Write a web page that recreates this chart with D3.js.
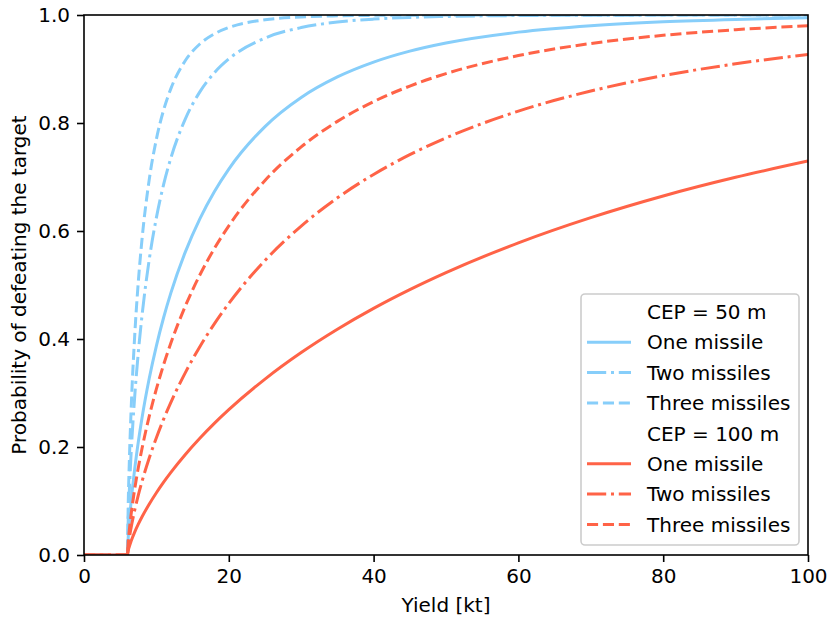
<!DOCTYPE html>
<html>
<head>
<meta charset="utf-8">
<script src="https://cdn.jsdelivr.net/npm/d3@7"></script>
<style>
  html, body { margin: 0; padding: 0; background: #fff; }
  text { font-family: "DejaVu Sans", sans-serif; fill: #000; }
</style>
</head>
<body>
<svg id="chart" width="827" height="618"></svg>
<script>
// ---- data ----
const yields = [0, 6, 6.1, 6.25, 6.5, 7, 7.5, 8, 9, 10, 11, 12, 14, 16, 18, 20, 25, 30, 35, 40, 45, 50, 60, 70, 80, 90, 100];
const cep50One   = [0, 0, 0.0303, 0.0594, 0.0979, 0.1591, 0.2093, 0.2528, 0.3263, 0.3874, 0.4398, 0.4854, 0.5614, 0.6226, 0.6728, 0.7147, 0.7934, 0.8473, 0.8853, 0.9128, 0.9331, 0.9482, 0.9683, 0.9802, 0.9874, 0.9918, 0.9947];
const cep50Two   = [0, 0, 0.0597, 0.1153, 0.1862, 0.2929, 0.3749, 0.4417, 0.5462, 0.6248, 0.6862, 0.7352, 0.8077, 0.8576, 0.8930, 0.9186, 0.9573, 0.9767, 0.9869, 0.9924, 0.9955, 0.9973, 0.9990, 0.9996, 0.9998, 0.9999, 1.0];
const cep50Three = [0, 0, 0.0883, 0.1679, 0.2659, 0.4054, 0.5057, 0.5829, 0.6942, 0.7702, 0.8242, 0.8637, 0.9157, 0.9463, 0.9650, 0.9768, 0.9912, 0.9964, 0.9985, 0.9993, 0.9997, 0.9999, 1.0, 1.0, 1.0, 1.0, 1.0];
const cep100One   = [0, 0, 0.0077, 0.0152, 0.0254, 0.0424, 0.0570, 0.0703, 0.0940, 0.1153, 0.1349, 0.1530, 0.1862, 0.2162, 0.2437, 0.2691, 0.3258, 0.3749, 0.4181, 0.4567, 0.4914, 0.5229, 0.5781, 0.6248, 0.6649, 0.6994, 0.7296];
const cep100Two   = [0, 0, 0.0153, 0.0302, 0.0502, 0.0830, 0.1108, 0.1356, 0.1792, 0.2173, 0.2516, 0.2826, 0.3378, 0.3857, 0.4280, 0.4658, 0.5455, 0.6092, 0.6614, 0.7047, 0.7413, 0.7724, 0.8220, 0.8592, 0.8877, 0.9096, 0.9269];
const cep100Three = [0, 0, 0.0228, 0.0449, 0.0744, 0.1219, 0.1615, 0.1963, 0.2564, 0.3076, 0.3525, 0.3924, 0.4611, 0.5185, 0.5674, 0.6096, 0.6936, 0.7557, 0.8030, 0.8396, 0.8684, 0.8914, 0.9249, 0.9472, 0.9624, 0.9728, 0.9802];

const xTicks = [0, 20, 40, 60, 80, 100];
const yTicks = [0, 0.2, 0.4, 0.6, 0.8, 1.0];
const legendLabels = ["CEP = 50 m", "One missile", "Two missiles", "Three missiles",
                      "CEP = 100 m", "One missile", "Two missiles", "Three missiles"];
const xLabel = "Yield [kt]";
const yLabel = "Probability of defeating the target";

// ---- styles ----
const BLUE = "#87cefa", RED = "#ff6347";
const DASH = { solid: null, dashdot: "19.2,4.8,3,4.8", dashed: "11.1,4.8" };
const series = [
  { values: cep50One,    color: BLUE, dash: DASH.solid },
  { values: cep50Two,    color: BLUE, dash: DASH.dashdot },
  { values: cep50Three,  color: BLUE, dash: DASH.dashed },
  { values: cep100One,   color: RED,  dash: DASH.solid },
  { values: cep100Two,   color: RED,  dash: DASH.dashdot },
  { values: cep100Three, color: RED,  dash: DASH.dashed }
];

const L = 84, R = 808, T = 15, B = 555;
const FS = 20;
const svg = d3.select("#chart");

const x = d3.scaleLinear().domain([0, 100]).range([L, R]);
const y = d3.scaleLinear().domain([0, 1]).range([B, T]);

svg.append("defs").append("clipPath").attr("id", "clip")
  .append("rect").attr("x", L).attr("y", T).attr("width", R - L).attr("height", B - T);

const line = d3.line()
  .x((d, i) => x(yields[i]))
  .y(d => y(d))
  .curve(d3.curveMonotoneX);

const g = svg.append("g").attr("clip-path", "url(#clip)");
series.forEach(s => {
  g.append("path")
    .attr("d", line(s.values))
    .attr("fill", "none")
    .attr("stroke", s.color)
    .attr("stroke-width", 3)
    .attr("stroke-dasharray", s.dash)
    .attr("stroke-linejoin", "round");
});

// axes
const xAxis = d3.axisBottom(x).tickValues(xTicks).tickFormat(d3.format("d"))
  .tickSizeInner(7).tickSizeOuter(0).tickPadding(7);
const yAxis = d3.axisLeft(y).tickValues(yTicks).tickFormat(d3.format(".1f"))
  .tickSizeInner(7).tickSizeOuter(0).tickPadding(7);

const gx = svg.append("g").attr("transform", `translate(0,${B})`).call(xAxis);
const gy = svg.append("g").attr("transform", `translate(${L},0)`).call(yAxis);
[gx, gy].forEach(a => {
  a.select(".domain").remove();
  a.selectAll(".tick line").attr("stroke", "#000").attr("stroke-width", 1.6);
  a.selectAll(".tick text").style("font-size", FS + "px").style("font-family", "DejaVu Sans").attr("fill", "#000");
});

// spines
svg.append("rect").attr("x", L).attr("y", T).attr("width", R - L).attr("height", B - T)
  .attr("fill", "none").attr("stroke", "#000").attr("stroke-width", 1.6);

// axis labels
svg.append("text").attr("x", (L + R) / 2).attr("y", 612)
  .attr("text-anchor", "middle").style("font-size", FS + "px").text(xLabel);
svg.append("text").attr("transform", `translate(26,${(T + B) / 2}) rotate(-90)`)
  .attr("text-anchor", "middle").style("font-size", FS + "px").text(yLabel);

// legend
const lg = svg.append("g");
lg.append("rect").attr("x", 581).attr("y", 294).attr("width", 218).attr("height", 251)
  .attr("rx", 4).attr("ry", 4)
  .attr("fill", "#fff").attr("fill-opacity", 0.8)
  .attr("stroke", "#cccccc").attr("stroke-width", 1.6);

const handles = [null, series[0], series[1], series[2], null, series[3], series[4], series[5]];
legendLabels.forEach((lab, i) => {
  const cy = 311.8 + i * 30.38;
  const h = handles[i];
  if (h) {
    lg.append("line").attr("x1", 587).attr("x2", 631).attr("y1", cy).attr("y2", cy)
      .attr("stroke", h.color).attr("stroke-width", 3)
      .attr("stroke-dasharray", h.dash);
  }
  lg.append("text").attr("x", 647).attr("y", cy + 7.3)
    .style("font-size", FS + "px").text(lab);
});
</script>
</body>
</html>
